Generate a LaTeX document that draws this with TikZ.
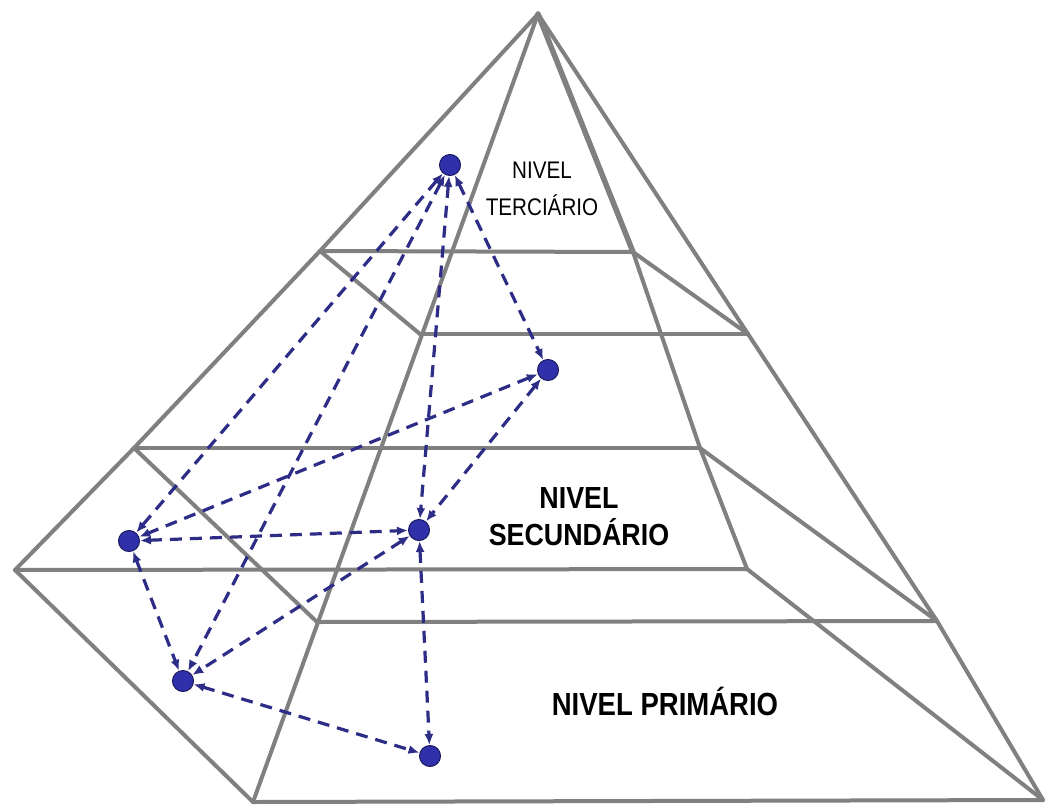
\documentclass[tikz,border=0pt]{standalone}
\usepackage{graphicx}
\usepackage{fontspec}
\setmainfont{Liberation Sans}
\usetikzlibrary{arrows.meta}
\definecolor{pyrgray}{RGB}{128,128,128}
\definecolor{conncol}{RGB}{45,45,135}
\definecolor{ballfill}{RGB}{48,48,170}
\definecolor{ballline}{RGB}{25,25,95}
\begin{document}
\begin{tikzpicture}[x=1pt,y=-1pt,
  pyr/.style={draw=pyrgray, line width=4pt, line join=round, line cap=round},
  conn/.style={draw=conncol, line width=3.2pt, dash pattern=on 12pt off 8pt,
    {Latex[length=11pt,width=9pt]}-{Latex[length=11pt,width=9pt]}},
  ball/.style={circle, fill=ballfill, draw=ballline, line width=1pt, minimum size=21pt, inner sep=0pt},
  lbl/.style={inner sep=0pt, anchor=base}]
\fill[white] (0,0) rectangle (1048,805);
\useasboundingbox (0,0) rectangle (1048,805);
% pyramid points
\coordinate (A) at (538,14);
\coordinate (L) at (15,570);
\coordinate (BL) at (253,802);
\coordinate (BR) at (1043,800);
\coordinate (P1) at (320,251);
\coordinate (P2) at (633,252);
\coordinate (P3) at (420,334);
\coordinate (P4) at (748,334);
\coordinate (M1) at (134,448);
\coordinate (M2) at (700,448);
\coordinate (N2) at (747,569);
\coordinate (R3) at (317,622);
\coordinate (S) at (937,621);
% outline
\draw[pyr] (A) -- (P1) -- (M1) -- (L) -- (BL) -- (BR) -- (S) -- (P4) -- cycle;
\draw[pyr] (A) -- (BL);
\draw[pyr, line width=5.5pt] (A) -- (P2);
\draw[pyr] (P2) -- (M2) -- (N2) -- (BR);
% horizontals
\draw[pyr] (P1) -- (P2);
\draw[pyr] (P3) -- (P4);
\draw[pyr] (M1) -- (M2);
\draw[pyr] (L) -- (N2);
\draw[pyr] (R3) -- (S);
% diagonals
\draw[pyr] (P1) -- (P3);
\draw[pyr] (P2) -- (P4);
\draw[pyr] (M1) -- (R3);
\draw[pyr] (M2) -- (S);
% labels
\node[lbl] (t3) at (542,178.3) {\fontsize{24}{36.7}\selectfont\scalebox{0.86}[1]{\begin{tabular}[t]{@{}c@{}}NIVEL\\TERCIÁRIO\end{tabular}}};
\node[lbl] (t2) at (579,508) {\fontsize{30.5}{36.5}\selectfont\bfseries\scalebox{0.88}[1]{\begin{tabular}[t]{@{}c@{}}NIVEL\\SECUNDÁRIO\end{tabular}}};
\node[lbl] (t1) at (665,715) {\fontsize{32}{38}\selectfont\bfseries\scalebox{0.86}[1]{NIVEL PRIMÁRIO}};
% dots
\node[ball] (d1) at (450,165) {};
\node[ball] (d2) at (548,370) {};
\node[ball] (d3) at (129,541) {};
\node[ball] (d4) at (419,530) {};
\node[ball] (d5) at (183,681) {};
\node[ball] (d6) at (430,756) {};
% connectors
\draw[conn] (d1) -- (d3);
\draw[conn] (d1) -- (d5);
\draw[conn] (d1) -- (d4);
\draw[conn] (d1) -- (d2);
\draw[conn] (d2) -- (d3);
\draw[conn] (d2) -- (d4);
\draw[conn] (d3) -- (d4);
\draw[conn] (d3) -- (d5);
\draw[conn] (d4) -- (d5);
\draw[conn] (d4) -- (d6);
\draw[conn] (d5) -- (d6);
\end{tikzpicture}
\end{document}
